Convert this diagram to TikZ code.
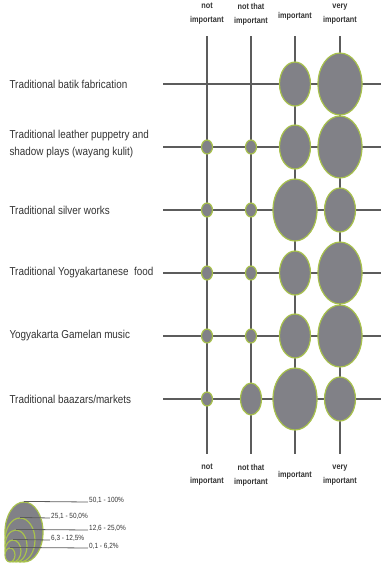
\documentclass[tikz,border=0pt]{standalone}
\usepackage{fontspec}
\setmainfont[FakeStretch=0.86]{Liberation Sans}
\usetikzlibrary{shapes.geometric}
\definecolor{gridgray}{HTML}{5C5C5C}
\definecolor{bubblegray}{HTML}{818187}
\definecolor{rimgreen}{HTML}{A8C24C}
\definecolor{textgray}{HTML}{333333}
\tikzset{
  bub/.style={ellipse, draw=rimgreen, fill=bubblegray, line width=1.2pt, inner sep=0pt},
  tiny/.style={bub, minimum width=11pt, minimum height=14pt},
  small/.style={bub, minimum width=21pt, minimum height=32pt},
  medium/.style={bub, minimum width=31pt, minimum height=44pt},
  large/.style={bub, minimum width=44pt, minimum height=62pt},
}
\begin{document}
\begin{tikzpicture}[x=1pt, y=-1pt,
  gline/.style={draw=gridgray, line width=1.3pt},
  rowlabel/.style={anchor=west, align=left, text=textgray, font=\fontsize{11.5}{17}\selectfont},
  colhead/.style={align=center, text=textgray, inner sep=1pt, font=\bfseries\fontsize{8.5}{14}\selectfont},
  keylabel/.style={anchor=base west, inner sep=1pt, text=textgray, font=\fontsize{7.5}{8}\selectfont}]
  \useasboundingbox (0,0) rectangle (381,565);

  % row labels
  \node[rowlabel] (batik) at (6,84) {Traditional batik fabrication};
  \node[rowlabel] (wayang) at (6,144) {Traditional leather puppetry and\\shadow plays (wayang kulit)};
  \node[rowlabel] (silver) at (6,210) {Traditional silver works};
  \node[rowlabel] (food) at (6,273) {Traditional Yogyakartanese\ \ food};
  \node[rowlabel] (gamelan) at (6,336) {Yogyakarta Gamelan music};
  \node[rowlabel] (market) at (6,399) {Traditional baazars/markets};

  % column heads
  \node[colhead] (nt) at (207,14) {not\\important};
  \node[colhead] (ntt) at (251,14) {not that\\important};
  \node[colhead] (imp) at (295,16) {important};
  \node[colhead] (vi) at (340,14) {very\\important};
  \node[colhead] (ntb) at (207,475) {not\\important};
  \node[colhead] (nttb) at (251,475) {not that\\important};
  \node[colhead] (impb) at (295,475) {important};
  \node[colhead] (vib) at (340,475) {very\\important};

  % grid
  \coordinate (w1) at (163,84);  \coordinate (e1) at (381,84);
  \coordinate (w2) at (163,147); \coordinate (e2) at (381,147);
  \coordinate (w3) at (163,210); \coordinate (e3) at (381,210);
  \coordinate (w4) at (163,273); \coordinate (e4) at (381,273);
  \coordinate (w5) at (163,336); \coordinate (e5) at (381,336);
  \coordinate (w6) at (163,399); \coordinate (e6) at (381,399);
  \coordinate (n1) at (207,36);  \coordinate (s1) at (207,454);
  \coordinate (n2) at (251,36);  \coordinate (s2) at (251,454);
  \coordinate (n3) at (295,36);  \coordinate (s3) at (295,454);
  \coordinate (n4) at (340,36);  \coordinate (s4) at (340,454);
  \draw[gline] (w1) -- (e1) (w2) -- (e2) (w3) -- (e3)
    (w4) -- (e4) (w5) -- (e5) (w6) -- (e6);
  \draw[gline] (n1) -- (s1) (n2) -- (s2) (n3) -- (s3) (n4) -- (s4);

  % bubbles
  \node[medium] (b13) at (295,84) {};
  \node[large] (b14) at (340,84) {};
  \node[tiny] (b21) at (207,147) {};
  \node[tiny] (b22) at (251,147) {};
  \node[medium] (b23) at (295,147) {};
  \node[large] (b24) at (340,147) {};
  \node[tiny] (b31) at (207,210) {};
  \node[tiny] (b32) at (251,210) {};
  \node[large] (b33) at (295,210) {};
  \node[medium] (b34) at (340,210) {};
  \node[tiny] (b41) at (207,273) {};
  \node[tiny] (b42) at (251,273) {};
  \node[medium] (b43) at (295,273) {};
  \node[large] (b44) at (340,273) {};
  \node[tiny] (b51) at (207,336) {};
  \node[tiny] (b52) at (251,336) {};
  \node[medium] (b53) at (295,336) {};
  \node[large] (b54) at (340,336) {};
  \node[tiny] (b61) at (207,399) {};
  \node[small] (b62) at (251,399) {};
  \node[large] (b63) at (295,399) {};
  \node[medium] (b64) at (340,399) {};

  % key
  \node[bub, minimum width=38pt, minimum height=60pt] (k1) at (24,532) {};
  \node[bub, minimum width=30pt, minimum height=44pt] (k2) at (20,540) {};
  \node[bub, minimum width=22pt, minimum height=32pt] (k3) at (16,546) {};
  \node[bub, minimum width=16pt, minimum height=22pt] (k4) at (13,551) {};
  \node[bub, minimum width=10pt, minimum height=14pt] (k5) at (10,555) {};
  \node[keylabel] (l1) at (88,502) {50,1 - 100\%};
  \node[keylabel] (l2) at (50,518) {25,1 - 50,0\%};
  \node[keylabel] (l3) at (88,530) {12,6 - 25,0\%};
  \node[keylabel] (l4) at (50,540) {6,3 - 12,5\%};
  \node[keylabel] (l5) at (88,548) {0,1 - 6,2\%};
  \draw[gridgray, line width=0.8pt] (k1.north) -- (l1.base west)
    (k2.north) -- (l2.base west) (k3.north) -- (l3.base west)
    (k4.north) -- (l4.base west) (k5.north) -- (l5.base west);
\end{tikzpicture}
\end{document}
